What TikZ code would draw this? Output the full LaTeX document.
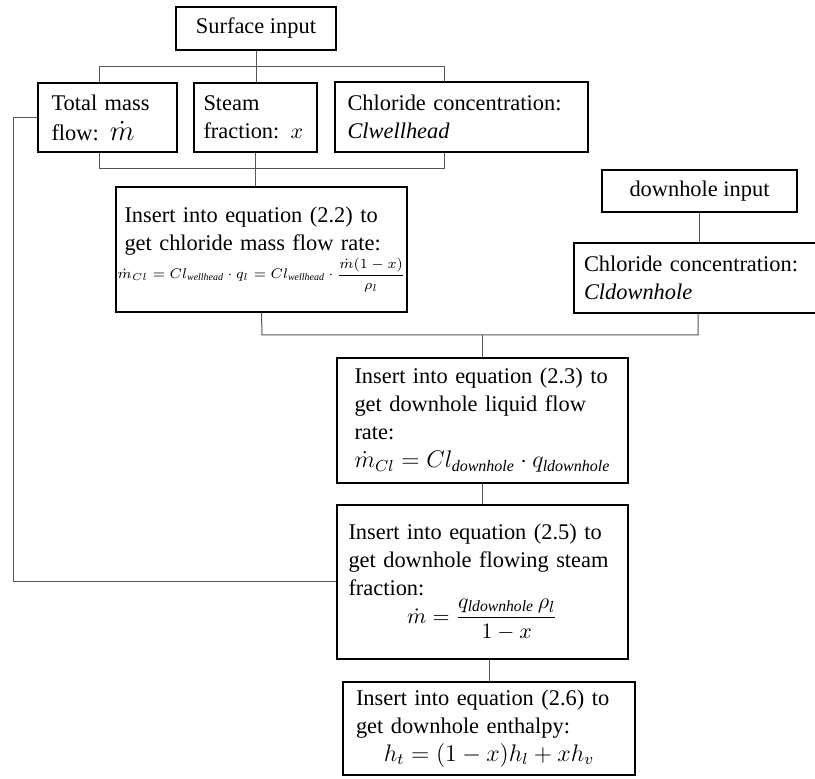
\documentclass[tikz,border=0pt]{standalone}
\usepackage{amsmath}
\usepackage{fontspec}
\setmainfont{Liberation Serif}
\usetikzlibrary{positioning,calc}
\definecolor{FInk}{HTML}{000000}
\definecolor{FLink}{HTML}{555555}
\newcommand{\eqline}[2]{\par\noindent\hbox to\hsize{\hss\fontsize{#1}{#1}\selectfont#2\hss}}

\begin{document}
\begin{tikzpicture}[x=0.5pt, y=-0.5pt,
  flowbox/.style={draw=FInk, line width=0.65pt, align=left, inner xsep=4pt, inner ysep=2pt,
    font=\fontsize{11.2}{14}\selectfont},
  link/.style={draw=FLink, line width=0.5pt}]
\useasboundingbox (0,0) rectangle (815,779);
% surface input and its three values
\node[flowbox, align=center, minimum width=80pt, minimum height=21.5pt] (surf) at (256,28.5) {Surface input};
\node[flowbox, text width=56pt, minimum width=69.5pt, minimum height=34.5pt] (mass) at (107.5,117.5)
  {Total mass\\[1pt]flow: {\fontsize{13.5}{14}\selectfont$\dot{m}$}};
\node[flowbox, text width=52pt, minimum width=61.5pt, minimum height=34.5pt] (steam) at (255.5,117.5)
  {Steam\\fraction: $x$};
\node[flowbox, text width=114pt, minimum width=126.5pt, minimum height=35pt] (clwh) at (461.5,117)
  {Chloride concentration:\\\textit{Clwellhead}};
\node[flowbox, text width=137pt, minimum width=145.5pt, minimum height=62.5pt] (eq22) at (261.5,249.5)
  {Insert into equation (2.2) to\\get chloride mass flow rate:
   \eqline{7.1}{$\dot{m}_{Cl}=Cl_{\mathit{wellhead}}\cdot q_l=Cl_{\mathit{wellhead}}\cdot\dfrac{\dot{m}(1-x)}{\rho_l}$}};
% downhole input
\node[flowbox, align=center, minimum width=97.5pt, minimum height=21pt] (dhin) at (699.5,191) {downhole input};
\node[flowbox, text width=114pt, minimum width=124pt, minimum height=35pt] (cldh) at (698,278)
  {Chloride concentration:\\\textit{Cldownhole}};
% equations down the chain
\node[flowbox, text width=128pt, minimum width=145.5pt, minimum height=62.5pt] (eq23) at (482.5,420.5)
  {Insert into equation (2.3) to\\get downhole liquid flow\\rate:
   \eqline{12}{$\dot{m}_{Cl}=Cl_{\mathit{downhole}}\cdot q_{\mathit{ldownhole}}$}};
\node[flowbox, text width=134pt, minimum width=145.5pt, minimum height=77pt] (eq25) at (482.5,582)
  {Insert into equation (2.5) to\\get downhole flowing steam\\fraction:
   \eqline{11.2}{$\dot{m}=\dfrac{q_{\mathit{ldownhole}}\,\rho_l}{1-x}$}};
\node[flowbox, text width=133pt, minimum width=146pt, minimum height=46.5pt] (eq26) at (489,728.5)
  {Insert into equation (2.6) to\\get downhole enthalpy:
   \eqline{11.5}{$h_t=(1-x)h_l+xh_v$}};
% bus lines
\coordinate (tapM) at (99,67);
\coordinate (tapC) at (444,67);
\coordinate (botM) at (99,169);
\coordinate (botC) at (444,169);
\coordinate (midL) at (262,335);
\coordinate (midR) at (698,335);
\coordinate (fbTop) at (13,117.5);
\draw[link] (surf.south) -- (surf.south |- steam.north);
\draw[link] (tapM |- mass.north) -- (tapM) -- (tapC) -- (tapC |- clwh.north);
\draw[link] (botM |- mass.south) -- (botM) -- (botC) -- (botC |- clwh.south);
\draw[link] (steam.south) -- (steam.south |- eq22.north);
\draw[link] (dhin.south) -- (dhin.south |- cldh.north);
\draw[link] (eq22.south) -- (midL) -- (midR) -- (cldh.south);
\draw[link] (eq23.north) -- (eq23.north |- midL);
\draw[link] (eq23.south) -- (eq25.north);
\draw[link] (eq26.north) -- (eq26.north |- eq25.south);
\draw[link] (mass.west) -- (fbTop) -- (fbTop |- eq25.west) -- (eq25.west);
\end{tikzpicture}
\end{document}
